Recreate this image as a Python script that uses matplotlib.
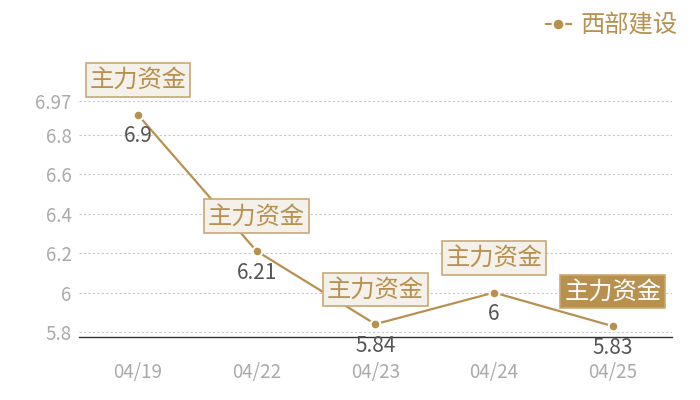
import matplotlib
matplotlib.use("Agg")
import matplotlib.pyplot as plt

plt.rcParams['font.family'] = ['Noto Sans CJK SC', 'DejaVu Sans']

dates = ["04/19", "04/22", "04/23", "04/24", "04/25"]
values = [6.9, 6.21, 5.84, 6, 5.83]
value_labels = ["6.9", "6.21", "5.84", "6", "5.83"]
series_name = "西部建设"
mark_text = "主力资金"
ytick_vals = [5.8, 6, 6.2, 6.4, 6.6, 6.8, 6.97]
ytick_labels = ["5.8", "6", "6.2", "6.4", "6.6", "6.8", "6.97"]

gold = "#b8914f"

fig = plt.figure(figsize=(7, 4), dpi=100)
ax = fig.add_axes([0.1123, 0.1575, 0.8477, 0.59])

x = list(range(len(dates)))
ax.plot(x, values, color=gold, linewidth=1.6, marker="o", markersize=7,
        markerfacecolor=gold, markeredgecolor="white", markeredgewidth=1.5,
        label=series_name, zorder=3)

ax.set_xlim(-0.5, len(dates) - 0.5)
ax.set_ylim(5.775, 6.97)
ax.set_xticks(x)
ax.set_xticklabels(dates, fontsize=13.5, color="#aaaaaa")
ax.set_yticks(ytick_vals)
ax.set_yticklabels(ytick_labels, fontsize=13.5, color="#aaaaaa")
ax.tick_params(length=0)
ax.tick_params(axis="y", pad=5)
ax.tick_params(axis="x", pad=18)
for s in ["top", "right", "left"]:
    ax.spines[s].set_visible(False)
ax.spines["bottom"].set_color("#333333")
ax.spines["bottom"].set_linewidth(1)
ax.yaxis.grid(True, linestyle=(0, (2, 2)), color="#c8c8c8", linewidth=0.8)
ax.set_axisbelow(True)

# value labels under points
for xi, v, lab in zip(x, values, value_labels):
    ax.annotate(lab, (xi, v), xytext=(0, -15.5), textcoords="offset points",
                ha="center", va="center", fontsize=15, color="#555555")

# mark boxes above points
for i, (xi, v) in enumerate(zip(x, values)):
    last = i == len(x) - 1
    box = dict(boxstyle="square,pad=0.16",
               facecolor=gold if last else "#f4f0ea",
               edgecolor="#c9a772", linewidth=1.2)
    ax.annotate(mark_text, (xi, v), xytext=(0, 25), textcoords="offset points",
                ha="center", va="center", fontsize=17.5,
                color="white" if last else gold, bbox=box, zorder=5)

leg = ax.legend(loc="upper right", bbox_to_anchor=(0.985, 1.0),
                bbox_transform=fig.transFigure, frameon=False,
                fontsize=17.5, handlelength=1.0, handletextpad=0.4,
                borderaxespad=0.1, markerscale=1.2)
for t in leg.get_texts():
    t.set_color(gold)

fig.savefig("out.png", dpi=100)
